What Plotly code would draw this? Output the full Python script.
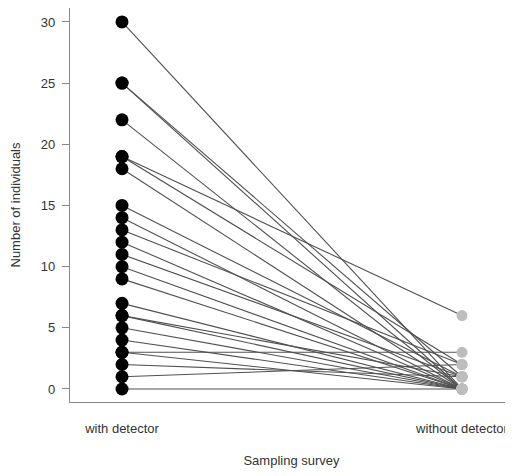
import plotly.graph_objects as go

with_detector = [30, 25, 25, 22, 19, 19, 18, 15, 14, 13, 12, 11, 10, 9, 7, 6, 6, 5, 4, 3, 3, 2, 1, 0]
without_detector = [0, 1, 0, 0, 6, 2, 0, 1, 0, 2, 0, 1, 0, 0, 0, 0, 1, 0, 0, 3, 0, 1, 2, 0]
survey_labels = ["with detector", "without detector"]
y_ticks = [0, 5, 10, 15, 20, 25, 30]

lx, ly = [], []
for a, b in zip(with_detector, without_detector):
    lx += [1, 2, None]
    ly += [a, b, None]

fig = go.Figure()
fig.add_trace(go.Scatter(x=lx, y=ly, mode="lines",
                         line=dict(color="#505050", width=1.1), hoverinfo="skip"))
fig.add_trace(go.Scatter(x=[2] * len(without_detector), y=without_detector, mode="markers",
                         marker=dict(color="#bdbdbd", size=11, line=dict(width=0))))
fig.add_trace(go.Scatter(x=[1] * len(with_detector), y=with_detector, mode="markers",
                         marker=dict(color="#000000", size=13, line=dict(width=0))))

font = dict(family="Liberation Sans, Arial, sans-serif", size=13, color="#333333")
# page body has an 8px default margin, so the figure is 8px smaller and offset
fig.update_layout(
    width=505, height=468,
    margin=dict(l=62, r=0, t=0, b=74),
    plot_bgcolor="white", paper_bgcolor="white",
    showlegend=False, font=font,
    xaxis=dict(range=[0.847, 2.15], tickvals=[1, 2], ticktext=survey_labels,
               showgrid=False, zeroline=False, showline=True, linecolor="#888888",
               linewidth=1.2, ticks="", ticklabelstandoff=14, automargin=False,
               tickfont=dict(size=13),
               title=dict(text="Sampling survey", standoff=21, font=dict(size=13))),
    yaxis=dict(range=[-1.063, 31.14], tickvals=y_ticks, automargin=False,
               showgrid=False, zeroline=False, showline=True, linecolor="#888888",
               linewidth=1.2, ticks="outside", ticklen=7, tickcolor="#888888",
               tickfont=dict(size=13), ticklabelstandoff=4,
               title=dict(text="Number of individuals", standoff=18, font=dict(size=13))),
)
fig.write_html("out.html")
